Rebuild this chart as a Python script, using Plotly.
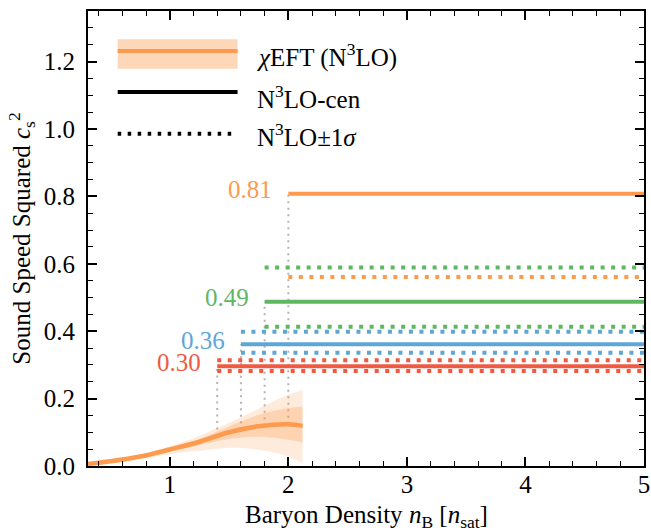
import numpy as np
import plotly.graph_objects as go

# ---- data ----
n_eft = [0.31, 0.5, 0.75, 1.0, 1.25, 1.5, 1.75, 2.0, 2.12]
cs2_cen = [0.006, 0.014, 0.028, 0.049, 0.072, 0.100, 0.118, 0.124, 0.119]
outer_hi = [0.008, 0.017, 0.034, 0.058, 0.090, 0.128, 0.170, 0.212, 0.225]
outer_lo = [0.004, 0.012, 0.022, 0.035, 0.045, 0.054, 0.048, 0.028, 0.008]
inner_hi = [0.007, 0.015, 0.031, 0.053, 0.080, 0.118, 0.152, 0.172, 0.176]
inner_lo = [0.005, 0.013, 0.025, 0.043, 0.062, 0.080, 0.087, 0.078, 0.070]

n_start = [1.4, 1.6, 1.8, 2.0]
cs2_const = [0.296, 0.361, 0.487, 0.808]
cs2_lo = [0.282, 0.336, 0.413, 0.561]
cs2_hi = [0.314, 0.398, 0.589, None]
value_labels = ["0.30", "0.36", "0.49", "0.81"]
n_max = 5.0

colors = ["#f05a42", "#5fa5d6", "#5fb860", "#fd9a4e"]
ORANGE = "#fd9a4e"
FONT = "Liberation Serif"
FS = 25

fig = go.Figure()

# grey vertical connectors
for xs, yc in zip(n_start, cs2_const):
    y0 = float(np.interp(xs, n_eft, cs2_cen))
    fig.add_trace(go.Scatter(x=[xs, xs], y=[y0, yc], mode="lines",
                             line=dict(color="#b4b4b4", width=2, dash="2px,4.5px"),
                             showlegend=False, hoverinfo="skip"))

# chiEFT bands
fig.add_trace(go.Scatter(x=n_eft, y=outer_hi, mode="lines", line=dict(width=0, shape="spline"),
                         showlegend=False, hoverinfo="skip"))
fig.add_trace(go.Scatter(x=n_eft, y=outer_lo, mode="lines", line=dict(width=0, shape="spline"),
                         fill="tonexty", fillcolor="rgba(253,154,78,0.2)",
                         showlegend=False, hoverinfo="skip"))
fig.add_trace(go.Scatter(x=n_eft, y=inner_hi, mode="lines", line=dict(width=0, shape="spline"),
                         showlegend=False, hoverinfo="skip"))
fig.add_trace(go.Scatter(x=n_eft, y=inner_lo, mode="lines", line=dict(width=0, shape="spline"),
                         fill="tonexty", fillcolor="rgba(253,154,78,0.3)",
                         showlegend=False, hoverinfo="skip"))
fig.add_trace(go.Scatter(x=n_eft, y=cs2_cen, mode="lines",
                         line=dict(color=ORANGE, width=4.5, shape="spline"),
                         showlegend=False))

# constant segments
for xs, yc, ylo, yhi, col, lab in zip(n_start, cs2_const, cs2_lo, cs2_hi, colors, value_labels):
    for yb in (ylo, yhi):
        if yb is None:
            continue
        fig.add_trace(go.Scatter(x=[xs, n_max], y=[yb, yb], mode="lines",
                                 line=dict(color=col, width=4, dash="4px,6.5px"),
                                 showlegend=False, hoverinfo="skip"))
    fig.add_trace(go.Scatter(x=[xs, n_max], y=[yc, yc], mode="lines",
                             line=dict(color=col, width=4), showlegend=False))
    fig.add_annotation(x=xs, y=yc, text=lab, showarrow=False, xanchor="right",
                       yanchor="middle", xshift=-14, yshift=4,
                       font=dict(family=FONT, size=FS, color=col))

# manual legend
fig.add_shape(type="rect", xref="paper", yref="paper", x0=0.0534, x1=0.269,
              y0=0.873, y1=0.938, fillcolor="rgba(253,154,78,0.4)", line=dict(width=0))
fig.add_shape(type="line", xref="paper", yref="paper", x0=0.0534, x1=0.269,
              y0=0.912, y1=0.912, line=dict(color=ORANGE, width=4))
fig.add_shape(type="line", xref="paper", yref="paper", x0=0.0534, x1=0.269,
              y0=0.822, y1=0.822, line=dict(color="black", width=4))
fig.add_shape(type="line", xref="paper", yref="paper", x0=0.0534, x1=0.269,
              y0=0.730, y1=0.730, line=dict(color="black", width=4, dash="3.5px,6.5px"))
leg_txt = ["<i>χ</i>EFT (N<sup>3</sup>LO)", "N<sup>3</sup>LO-cen", "N<sup>3</sup>LO±1<i>σ</i>"]
leg_y = [0.903, 0.811, 0.727]
for t, yy in zip(leg_txt, leg_y):
    fig.add_annotation(xref="paper", yref="paper", x=0.300, y=yy, text=t, showarrow=False,
                       xanchor="left", yanchor="middle",
                       font=dict(family=FONT, size=FS, color="black"))

# x-axis title as annotation for exact placement
fig.add_annotation(xref="paper", yref="paper", x=0.5, y=0, yshift=-50,
                   text="Baryon Density <i>n</i><sub>B</sub> [<i>n</i><sub>sat</sub>]",
                   showarrow=False, xanchor="center", yanchor="middle",
                   font=dict(family=FONT, size=FS, color="black"))

axis_common = dict(showline=True, linecolor="black", linewidth=2, mirror="allticks",
                   ticks="inside", ticklen=9, tickwidth=1.5, tickcolor="black",
                   showgrid=False, zeroline=False, automargin=False,
                   tickfont=dict(family=FONT, size=FS, color="black"))

fig.update_xaxes(range=[0.31, 5.0], tickvals=[1, 2, 3, 4, 5],
                 minor=dict(dtick=0.2, tick0=0, ticks="inside", ticklen=5, tickcolor="black", tickwidth=1.2),
                 ticklabelstandoff=-5,
                 **axis_common)
fig.update_yaxes(range=[0, 1.35], tickvals=[0, 0.2, 0.4, 0.6, 0.8, 1.0, 1.2], tickformat=".1f",
                 minor=dict(dtick=0.05, tick0=0, ticks="inside", ticklen=5, tickcolor="black", tickwidth=1.2),
                 title=dict(text="Sound Speed Squared <i>c</i><sub>s</sub><sup>2</sup>",
                            font=dict(family=FONT, size=FS, color="black"), standoff=6),
                 ticklabelstandoff=6,
                 **axis_common)

fig.update_layout(width=651, height=531, margin=dict(l=88, r=7, t=11, b=65),
                  plot_bgcolor="white", paper_bgcolor="white", showlegend=False)

fig.write_html("out.html", config={"displayModeBar": False},
               post_script="document.body.style.margin='0';document.body.style.overflow='hidden';")
